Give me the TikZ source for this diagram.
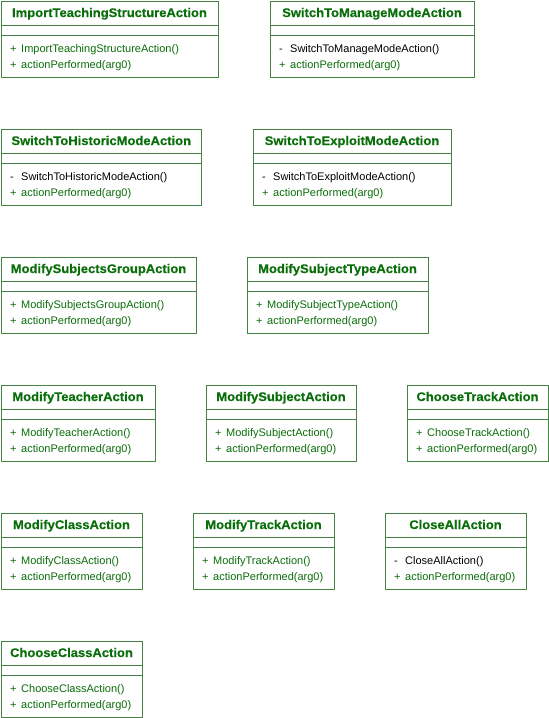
\documentclass[tikz,border=0pt]{standalone}
\usepackage{fontspec}
\setmainfont{Liberation Sans}
\newfontfamily\titlefont[FakeStretch=1.04,FakeBold=0.4]{Liberation Sans}
\definecolor{umlborder}{RGB}{70,130,70}
\definecolor{umltext}{RGB}{10,110,10}
\tikzset{
  classbox/.style={draw=umlborder, line width=1pt, inner sep=0pt, minimum height=76pt, anchor=north west},
  classtitle/.style={font=\titlefont\bfseries\fontsize{12.5}{14}\selectfont, text=umltext, inner sep=0pt, anchor=base},
  member/.style={font=\fontsize{11}{13}\selectfont, inner sep=0pt, anchor=base west},
  pub/.style={member, text=umltext},
  priv/.style={member, text=black},
  divider/.style={draw=umlborder, line width=1pt}
}
\newcommand\umlclass[6]{%
  \node[classbox, minimum width=#4pt] (#1) at (#2,#3) {};
  \draw[divider] ([yshift=-25pt]#1.north west) -- ([yshift=-25pt]#1.north east);
  \draw[divider] ([yshift=-35pt]#1.north west) -- ([yshift=-35pt]#1.north east);
  \node[classtitle] (#1-title) at ([yshift=-16.5pt]#1.north) {#1};
  \node[#5] (#1-cvis) at ([xshift=9.5pt,yshift=-52pt]#1.north west) {#6};
  \node[#5] (#1-ctor) at ([xshift=20.5pt,yshift=-52pt]#1.north west) {#1()};
  \node[pub] (#1-ovis) at ([xshift=9.5pt,yshift=-67.5pt]#1.north west) {+};
  \node[pub] (#1-op) at ([xshift=20.5pt,yshift=-67.5pt]#1.north west) {actionPerformed(arg0)};
}
\begin{document}
\begin{tikzpicture}[x=1pt,y=-1pt]
\useasboundingbox[fill=white] (0,0) rectangle (549,718);
\umlclass{ImportTeachingStructureAction}{0.5}{0.5}{217}{pub}{+}
\umlclass{SwitchToManageModeAction}{269.5}{0.5}{204}{priv}{-}
\umlclass{SwitchToHistoricModeAction}{0.5}{128.5}{200.5}{priv}{-}
\umlclass{SwitchToExploitModeAction}{252.5}{128.5}{198}{priv}{-}
\umlclass{ModifySubjectsGroupAction}{0.5}{256.5}{195}{pub}{+}
\umlclass{ModifySubjectTypeAction}{246.5}{256.5}{181}{pub}{+}
\umlclass{ModifyTeacherAction}{0.5}{384.5}{154}{pub}{+}
\umlclass{ModifySubjectAction}{205.5}{384.5}{150}{pub}{+}
\umlclass{ChooseTrackAction}{406.5}{384.5}{141}{pub}{+}
\umlclass{ModifyClassAction}{0.5}{512.5}{141}{pub}{+}
\umlclass{ModifyTrackAction}{192.5}{512.5}{141}{pub}{+}
\umlclass{CloseAllAction}{384.5}{512.5}{141}{priv}{-}
\umlclass{ChooseClassAction}{0.5}{640.5}{141}{pub}{+}
\end{tikzpicture}
\end{document}
